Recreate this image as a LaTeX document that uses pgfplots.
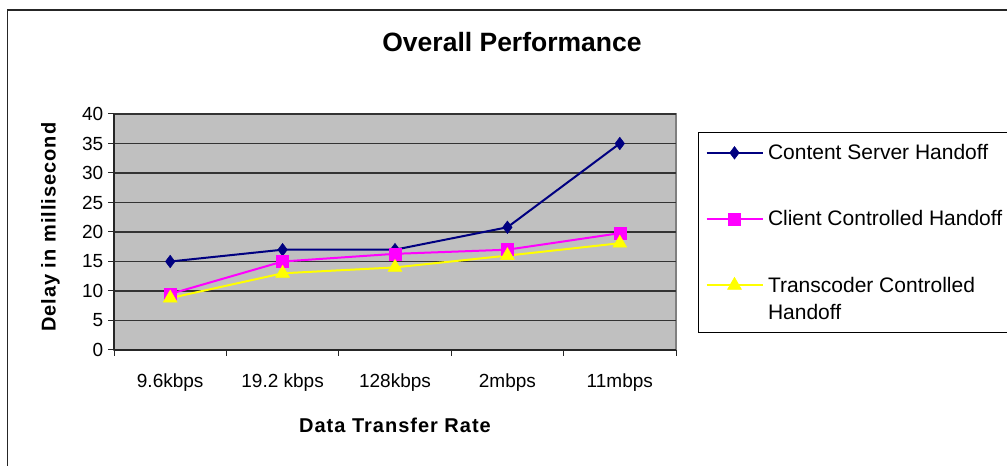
\documentclass[border=0pt]{standalone}
\usepackage{fontspec}
\setmainfont{Liberation Sans}
\usepackage{pgfplots}
\pgfplotsset{compat=1.18}
\definecolor{bggray}{RGB}{192,192,192}
\definecolor{framegray}{RGB}{128,128,128}
\definecolor{navyline}{RGB}{0,0,128}
\definecolor{magline}{RGB}{255,0,255}
\definecolor{yelline}{RGB}{255,255,0}
\begin{document}
\begin{tikzpicture}[x=1pt,y=1pt]
\useasboundingbox (0,0) rectangle (1007,466);
\begin{scope}
\clip (0,0) rectangle (1007,466);
\fill[white] (0,0) rectangle (1007,466);
\draw[line width=1.5pt, black!85] (7.5,-20) -- (7.5,456) -- (1030,456);
\node[font=\bfseries\fontsize{26.5}{30}\selectfont] at (512,424) {Overall Performance};
\begin{axis}[
  at={(114pt,116pt)}, anchor=south west,
  scale only axis, width=562pt, height=236pt,
  xmin=-0.5, xmax=4.5, ymin=0, ymax=40,
  axis lines=left,
  axis line style={-, draw=black!85, line width=1.5pt},
  axis background/.style={fill=bggray, draw=framegray, line width=1.2pt},
  ytick={0,5,...,40},
  xtick={-0.5,0.5,...,4.5},
  xticklabels={},
  extra x ticks={0,1,2,3,4},
  extra x tick labels={9.6kbps,19.2 kbps,128kbps,2mbps,11mbps},
  extra x tick style={major tick length=0pt, xmajorgrids=false,
    xticklabel style={anchor=base, inner sep=0pt, yshift=-37pt}},
  tick align=outside,
  major tick length=5.5pt,
  tick style={black!85, line width=1pt},
  ymajorgrids, major grid style={black!80, line width=1.2pt},
  tick label style={font=\fontsize{19}{22}\selectfont},
  /pgf/number format/assume math mode=true,
  yticklabel style={inner sep=0pt, xshift=-5pt},
  xlabel={Data Transfer Rate},
  ylabel={Delay in millisecond},
  xlabel style={at={(axis description cs:0.5,-0.318)}, anchor=center,
    font=\bfseries\fontsize{20}{24}\selectfont\addfontfeatures{LetterSpace=5}},
  ylabel style={at={(axis description cs:-0.113,0.52)}, anchor=center,
    font=\bfseries\fontsize{20}{24}\selectfont\addfontfeatures{LetterSpace=5}},
  legend style={at={(1,1)}, anchor=north west, xshift=22pt, yshift=-18pt,
    draw=black, line width=1pt, fill=white,
    font=\fontsize{21}{27}\selectfont,
    inner xsep=7pt, inner ysep=12pt, row sep=49.5pt, column sep=4.5pt,
    nodes={inner sep=0pt, align=left}},
  legend cell align=left,
  legend image code/.code={\draw[mark repeat=2,mark phase=2,#1] plot coordinates {(0pt,0pt) (28pt,0pt) (56pt,0pt)};},
]
\addplot[navyline, line width=2pt, mark=diamond*, mark size=6.3pt, mark options={solid, fill=navyline, line width=0.5pt}]
  coordinates {(0,15) (1,17) (2,17) (3,20.8) (4,35)};
\addlegendentry{Content Server Handoff}
\addplot[magline, line width=2pt, mark=square*, mark size=6pt, mark options={solid, fill=magline, line width=0.5pt}]
  coordinates {(0,9.5) (1,15) (2,16.3) (3,17) (4,19.8)};
\addlegendentry{Client Controlled Handoff}
\addplot[yelline, line width=2pt, mark=triangle*, mark size=8pt, mark options={solid, fill=yelline, line width=0.5pt},
  legend image post style={yshift=13.5pt}]
  coordinates {(0,8.8) (1,13) (2,14) (3,16) (4,18.1)};
\addlegendentry{Transcoder Controlled\\Handoff}
\end{axis}
\end{scope}
\end{tikzpicture}
\end{document}
